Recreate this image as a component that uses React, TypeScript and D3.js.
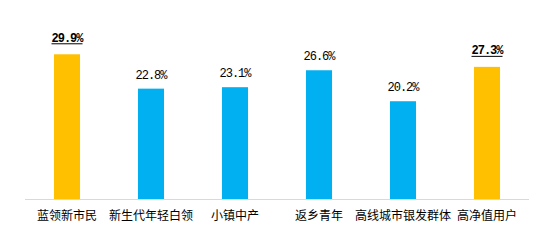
import React from "react";
import * as d3 from "d3";

const categories = ["蓝领新市民", "新生代年轻白领", "小镇中产", "返乡青年", "高线城市银发群体", "高净值用户"];
const values = [29.9, 22.8, 23.1, 26.6, 20.2, 27.3];
const highlighted = [true, false, false, false, false, true];

const W = 544;
const H = 242;

export default function App() {
  const x = d3.scaleBand<string>().domain(categories).range([25, 529]).paddingInner(0.69).paddingOuter(0.345);
  const y = d3.scaleLinear().domain([0, 35]).range([199, 199 - 35 * 4.84]);
  const bw = x.bandwidth();
  return (
    <svg width={W} height={H} style={{ position: "absolute", left: 0, top: 0, background: "#fff" }}>
      {categories.map((c, i) => {
        const cx = (x(c) as number) + bw / 2;
        const top = y(values[i]);
        const hl = highlighted[i];
        const label = values[i].toFixed(1) + "%";
        return (
          <g key={c}>
            <rect x={x(c)} y={top} width={bw} height={y(0) - top} fill={hl ? "#FFC000" : "#00B0F0"} />
            <text
              x={cx}
              y={hl ? top - 12.5 : top - 9.8}
              textAnchor="middle"
              fontFamily="'Liberation Mono', 'DejaVu Sans Mono', monospace"
              fontSize={12}
              fontWeight={hl ? "bold" : "normal"}
              letterSpacing={-1}
              fill="#000"
            >
              {label}
            </text>
            {hl && <line x1={cx - 15.5} x2={cx + 15.5} y1={top - 10.5} y2={top - 10.5} stroke="#000" strokeWidth={1} />}
            <text
              x={cx}
              y={220}
              textAnchor="middle"
              fontFamily="'Noto Sans CJK SC', sans-serif"
              fontSize={12}
              fill="#000"
            >
              {c}
            </text>
          </g>
        );
      })}
      <line x1={25} x2={529} y1={199.5} y2={199.5} stroke="#d9d9d9" strokeWidth={1} />
    </svg>
  );
}
